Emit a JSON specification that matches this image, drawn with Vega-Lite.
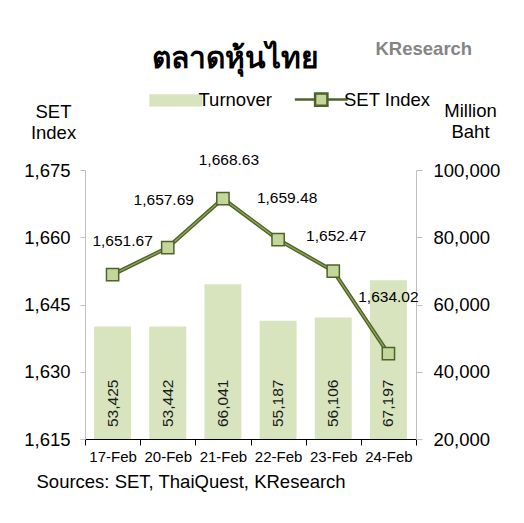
{
  "$schema": "https://vega.github.io/schema/vega-lite/v6.json",
  "width": 331,
  "height": 269,
  "autosize": {"type": "none"},
  "padding": {"left": 85, "top": 170, "right": 108, "bottom": 84},
  "background": "white",
  "config": {
    "view": {"stroke": null},
    "font": "Liberation Sans",
    "axis": {"labelFont": "Liberation Sans", "titleFont": "Liberation Sans", "labelColor": "black", "titleColor": "black", "grid": false}
  },
  "title": {
    "text": "ตลาดหุ้นไทย",
    "fontSize": 30,
    "fontWeight": "bold",
    "color": "black",
    "anchor": "middle",
    "dx": -15,
    "offset": -35
  },
  "data": {
    "values": [
      {"date": "17-Feb", "set": 1651.67, "turnover": 53425},
      {"date": "20-Feb", "set": 1657.69, "turnover": 53442},
      {"date": "21-Feb", "set": 1668.63, "turnover": 66041},
      {"date": "22-Feb", "set": 1659.48, "turnover": 55187},
      {"date": "23-Feb", "set": 1652.47, "turnover": 56106},
      {"date": "24-Feb", "set": 1634.02, "turnover": 67197}
    ]
  },
  "resolve": {"scale": {"y": "independent"}, "axis": {"x": "independent", "y": "independent"}},
  "layer": [
    {
      "mark": {"type": "bar", "width": {"band": 0.67}},
      "encoding": {
        "x": {
          "field": "date", "type": "nominal", "sort": null,
          "scale": {"paddingInner": 0, "paddingOuter": 0},
          "axis": {
            "orient": "bottom", "labelAngle": 0, "labelFontSize": 15, "tickBand": "extent",
            "domainColor": "black", "tickColor": "black", "tickSize": 6, "labelPadding": 4,
            "title": "Sources: SET, ThaiQuest, KResearch", "titleFontSize": 18.5, "titleFontWeight": "normal",
            "titleAngle": 0, "titleAlign": "left", "titleBaseline": "top", "titleX": -49, "titleY": 33
          }
        },
        "y": {
          "field": "turnover", "type": "quantitative",
          "scale": {"domain": [20000, 100000], "nice": false, "zero": false},
          "axis": {
            "orient": "right", "values": [20000, 40000, 60000, 80000, 100000], "format": ",d",
            "labelFontSize": 18.5, "domainColor": "#bfbfbf", "tickColor": "#bfbfbf", "tickSize": 6, "labelPadding": 11,
            "title": ["Million", "Baht"], "titleFontSize": 18.5, "titleFontWeight": "normal", "titleAngle": 0,
            "titleAlign": "center", "titleBaseline": "top", "titleX": 54, "titleY": -69, "titleLineHeight": 21
          }
        },
        "y2": {"datum": 20000},
        "color": {
          "datum": "Turnover",
          "scale": {"domain": ["Turnover", "SET Index"], "range": ["#D7E4BD", "#C3D69B"]},
          "legend": {
            "orient": "none", "legendX": 81.5, "legendY": -80, "direction": "horizontal", "title": null,
            "symbolSize": 1936, "labelFontSize": 18.5, "labelFont": "Liberation Sans", "labelColor": "black",
            "columnPadding": 16.5, "labelOffset": 13.5, "symbolStrokeWidth": 2.5, "symbolStrokeColor": "#4F6228",
            "encode": {
              "symbols": {
                "update": {
                  "shape": {"signal": "datum.value === 'Turnover' ? 'M-1.2,-0.28H1.2V0.28H-1.2Z' : 'M-1.2,0H-0.28M0.28,0H1.2M-0.28,-0.28H0.28V0.28H-0.28Z'"},
                  "fill": {"signal": "datum.value === 'Turnover' ? '#D7E4BD' : '#C3D69B'"},
                  "stroke": {"signal": "datum.value === 'Turnover' ? '#D7E4BD' : '#4F6228'"},
                  "strokeWidth": {"signal": "datum.value === 'Turnover' ? 0 : 2.5"},
                  "opacity": {"value": 1}
                }
              }
            }
          }
        }
      }
    },
    {
      "mark": {"type": "text", "angle": 270, "align": "left", "baseline": "middle", "dx": 12, "fontSize": 15.5, "color": "#1a1a1a"},
      "encoding": {
        "x": {"field": "date", "type": "nominal", "sort": null, "axis": null},
        "y": {"datum": 20000, "type": "quantitative", "scale": {"domain": [20000, 100000], "nice": false, "zero": false}, "axis": null},
        "text": {"field": "turnover", "type": "quantitative", "format": ",d"}
      }
    },
    {
      "mark": {"type": "line", "strokeWidth": 4, "stroke": "#4F6228"},
      "encoding": {
        "x": {
          "field": "date", "type": "nominal", "sort": null,
          "axis": {
            "orient": "top", "labels": false, "ticks": false, "domain": false,
            "title": "KResearch", "titleFontSize": 18.5, "titleFontWeight": "bold", "titleColor": "#858585",
            "titleAngle": 0, "titleAlign": "left", "titleBaseline": "middle", "titleX": 290, "titleY": -122
          }
        },
        "y": {
          "field": "set", "type": "quantitative",
          "scale": {"domain": [1615, 1675], "nice": false, "zero": false},
          "axis": {
            "orient": "left", "values": [1615, 1630, 1645, 1660, 1675], "format": ",d",
            "labelFontSize": 18.5, "domainColor": "#bfbfbf", "tickColor": "#bfbfbf", "tickSize": 5, "labelPadding": 10,
            "title": ["SET", "Index"], "titleFontSize": 18.5, "titleFontWeight": "normal", "titleAngle": 0,
            "titleAlign": "center", "titleBaseline": "top", "titleX": -32, "titleY": -68, "titleLineHeight": 21
          }
        }
      }
    },
    {
      "mark": {"type": "line", "strokeWidth": 1.3, "stroke": "#8DA557"},
      "encoding": {
        "x": {"field": "date", "type": "nominal", "sort": null, "axis": null},
        "y": {"field": "set", "type": "quantitative", "scale": {"domain": [1615, 1675], "nice": false, "zero": false}, "axis": null}
      }
    },
    {
      "mark": {"type": "point", "shape": "square", "size": 150, "filled": true, "stroke": "#4F6228", "strokeWidth": 1.5, "opacity": 1},
      "encoding": {
        "x": {"field": "date", "type": "nominal", "sort": null, "axis": null},
        "y": {"field": "set", "type": "quantitative", "scale": {"domain": [1615, 1675], "nice": false, "zero": false}, "axis": null},
        "color": {"datum": "SET Index"}
      }
    },
    {
      "transform": [{"filter": "datum.date === '17-Feb'"}],
      "mark": {"type": "text", "fontSize": 15.5, "color": "black", "baseline": "middle", "dx": 10, "dy": -34},
      "encoding": {
        "x": {"field": "date", "type": "nominal", "sort": null, "axis": null},
        "y": {"field": "set", "type": "quantitative", "scale": {"domain": [1615, 1675], "nice": false, "zero": false}, "axis": null},
        "text": {"field": "set", "type": "quantitative", "format": ",.2f"}
      }
    },
    {
      "transform": [{"filter": "datum.date === '20-Feb'"}],
      "mark": {"type": "text", "fontSize": 15.5, "color": "black", "baseline": "middle", "dx": -4, "dy": -48},
      "encoding": {
        "x": {"field": "date", "type": "nominal", "sort": null, "axis": null},
        "y": {"field": "set", "type": "quantitative", "scale": {"domain": [1615, 1675], "nice": false, "zero": false}, "axis": null},
        "text": {"field": "set", "type": "quantitative", "format": ",.2f"}
      }
    },
    {
      "transform": [{"filter": "datum.date === '21-Feb'"}],
      "mark": {"type": "text", "fontSize": 15.5, "color": "black", "baseline": "middle", "dx": 6, "dy": -39},
      "encoding": {
        "x": {"field": "date", "type": "nominal", "sort": null, "axis": null},
        "y": {"field": "set", "type": "quantitative", "scale": {"domain": [1615, 1675], "nice": false, "zero": false}, "axis": null},
        "text": {"field": "set", "type": "quantitative", "format": ",.2f"}
      }
    },
    {
      "transform": [{"filter": "datum.date === '22-Feb'"}],
      "mark": {"type": "text", "fontSize": 15.5, "color": "black", "baseline": "middle", "dx": 9, "dy": -42},
      "encoding": {
        "x": {"field": "date", "type": "nominal", "sort": null, "axis": null},
        "y": {"field": "set", "type": "quantitative", "scale": {"domain": [1615, 1675], "nice": false, "zero": false}, "axis": null},
        "text": {"field": "set", "type": "quantitative", "format": ",.2f"}
      }
    },
    {
      "transform": [{"filter": "datum.date === '23-Feb'"}],
      "mark": {"type": "text", "fontSize": 15.5, "color": "black", "baseline": "middle", "dx": 3, "dy": -35},
      "encoding": {
        "x": {"field": "date", "type": "nominal", "sort": null, "axis": null},
        "y": {"field": "set", "type": "quantitative", "scale": {"domain": [1615, 1675], "nice": false, "zero": false}, "axis": null},
        "text": {"field": "set", "type": "quantitative", "format": ",.2f"}
      }
    },
    {
      "transform": [{"filter": "datum.date === '24-Feb'"}],
      "mark": {"type": "text", "fontSize": 15.5, "color": "black", "baseline": "middle", "dx": 0, "dy": -57},
      "encoding": {
        "x": {"field": "date", "type": "nominal", "sort": null, "axis": null},
        "y": {"field": "set", "type": "quantitative", "scale": {"domain": [1615, 1675], "nice": false, "zero": false}, "axis": null},
        "text": {"field": "set", "type": "quantitative", "format": ",.2f"}
      }
    }
  ]
}
